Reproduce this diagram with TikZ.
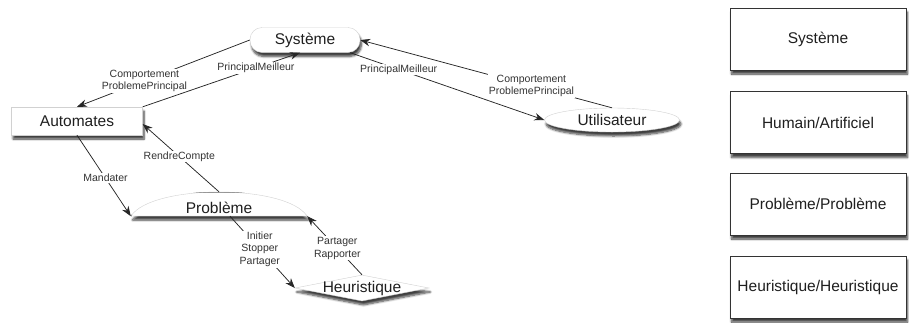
\documentclass[tikz,border=0pt]{standalone}
\usepackage{fontspec}
\setmainfont{Liberation Sans}
\usetikzlibrary{arrows.meta,shapes.geometric,shadows,shadows.blur}

\begin{document}
\begin{tikzpicture}[x=1pt,y=-1pt]
\tikzset{
  soft/.style={fill=white,draw=black!18,line width=.4pt,
    blur shadow={shadow xshift=1.5pt,shadow yshift=-4pt,shadow blur steps=7,shadow opacity=75}},
  concept/.style={soft,inner sep=0pt,text=black!88,font=\fontsize{15.5}{18}\selectfont},
  legendbox/.style={concept,draw=black!80,line width=.6pt,minimum width=176pt,minimum height=62pt},
  rel/.style={draw=black!85,line width=.75pt,-{Stealth[length=10pt,width=7.5pt]}},
  lbl/.style={fill=white,inner sep=1pt,align=center,text=black!80,
    font=\fontsize{10.5}{12.5}\selectfont}
}
\useasboundingbox (0,0) rectangle (909,322);

\path[soft] (131,216) .. controls (152,184) and (286,184) .. (307,216) -- cycle;

\node[concept,rounded corners=12pt,minimum width=110pt,minimum height=25pt] (sys) at (305,40) {Système};
\node[concept,minimum width=131pt,minimum height=28pt] (aut) at (77,121) {Automates};
\node[concept,ellipse,minimum width=135pt,minimum height=24pt] (ut) at (612,120) {Utilisateur};
\node[concept,fill=none,draw=none,blur shadow={shadow opacity=0},minimum width=176pt,minimum height=24pt,text height=20pt] (pb) at (219,204) {Problème};
\node[concept,diamond,aspect=5.2,inner xsep=-6pt,inner ysep=-3pt,minimum width=134pt,minimum height=26pt] (hu) at (362,288) {Heuristique};

\draw[rel] (sys.west) -- node[lbl,pos=.61] {Comportement\\ProblemePrincipal} (aut.north);
\draw[rel] (aut.north east) -- node[lbl,pos=.72] {PrincipalMeilleur} ([xshift=-5pt]sys.south);
\draw[rel] (ut.north) -- node[lbl,pos=.32] {Comportement\\ProblemePrincipal} (sys.east);
\draw[rel] ([xshift=-10pt]sys.south east) -- node[lbl,pos=.25] {PrincipalMeilleur} (ut.west);
\draw[rel] (aut.south) -- node[lbl,pos=.53] {Mandater} (pb.south west);
\draw[rel] (pb.north) -- node[lbl,pos=.52] {RendreCompte} ([yshift=-3pt]aut.east);
\draw[rel] ([xshift=11pt]pb.south) -- node[lbl,pos=.46] {Initier\\Stopper\\Partager} (hu.west);
\draw[rel] (hu.north) -- node[lbl,pos=.45] {Partager\\Rapporter} (pb.south east);

\node[legendbox] (lsys) at (818,39) {Système};
\node[legendbox] (lhum) at (818,122.5) {Humain/Artificiel};
\node[legendbox] (lpb) at (818,204) {Problème/Problème};
\node[legendbox] (lhu) at (818,287) {Heuristique/Heuristique};
\end{tikzpicture}
\end{document}
